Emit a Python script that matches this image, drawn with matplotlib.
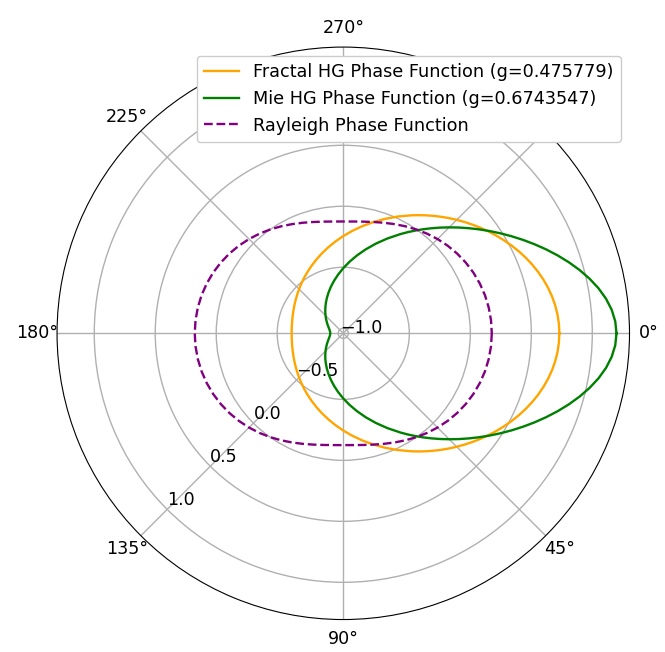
import numpy as np
import matplotlib
matplotlib.use("Agg")
import matplotlib.pyplot as plt

# Scattering angles (degrees) for 0..180; curves are symmetric about 0-180 axis
angles_half = [0, 5, 10, 15, 20, 25, 30, 35, 40, 45, 50, 55, 60, 65, 70, 75, 80, 85, 90,
               95, 100, 105, 110, 115, 120, 125, 130, 135, 140, 145, 150, 155, 160, 165,
               170, 175, 180]
fine_angles_half = [0, 2.5, 5, 7.5, 10, 12.5, 15, 17.5, 20, 22.5, 25, 27.5, 30, 32.5, 35,
                    37.5, 40, 42.5, 45, 47.5, 50, 52.5, 55, 57.5, 60, 65, 70, 75, 80, 85, 90,
                    95, 100, 105, 110, 115, 120, 125, 130, 135, 140, 145, 150, 155, 160, 165,
                    170, 175, 180]

# log10 of phase function values
fractal_half = [0.7300, 0.7278, 0.7215, 0.7110, 0.6966, 0.6786, 0.6573, 0.6332, 0.6064,
                0.5776, 0.5470, 0.5149, 0.4817, 0.4477, 0.4132, 0.3784, 0.3434, 0.3085,
                0.2738, 0.2395, 0.2055, 0.1721, 0.1392, 0.1070, 0.0754, 0.0145, -0.0435,
                -0.0984, -0.1501, -0.1988, -0.2444, -0.2870, -0.3268, -0.3636, -0.3977,
                -0.4292, -0.4580, -0.4837, -0.5080, -0.5293, -0.5483, -0.5649, -0.5792,
                -0.5913, -0.6011, -0.6088, -0.6142, -0.6174, -0.6185]
mie_half = [1.1984, 1.1905, 1.1676, 1.1311, 1.0833, 1.0267, 0.9638, 0.8968, 0.8275, 0.7573,
            0.6872, 0.6181, 0.5504, 0.4845, 0.4206, 0.3588, 0.2993, 0.2419, 0.1867, 0.1337,
            0.0827, 0.0338, -0.0133, -0.0585, -0.1019, -0.1836, -0.2591, -0.3289, -0.3932,
            -0.4527, -0.5076, -0.5582, -0.6048, -0.6477, -0.6870, -0.7230, -0.7557,
            -0.7854, -0.8121, -0.8360, -0.8572, -0.8757, -0.8915, -0.9049, -0.9158,
            -0.9242, -0.9302, -0.9338, -0.9350]
rayleigh_half = [0.1761, 0.1744, 0.1695, 0.1614, 0.1499, 0.1355, 0.1181, 0.0980, 0.0756,
                 0.0512, 0.0253, -0.0014, -0.0280, -0.0536, -0.0769, -0.0968, -0.1120,
                 -0.1217, -0.1249, -0.1217, -0.1120, -0.0968, -0.0769, -0.0536, -0.0280,
                 -0.0014, 0.0253, 0.0512, 0.0756, 0.0980, 0.1181, 0.1355, 0.1499, 0.1614,
                 0.1695, 0.1744, 0.1761]

labels = ["Fractal HG Phase Function (g=0.475779)",
          "Mie HG Phase Function (g=0.6743547)",
          "Rayleigh Phase Function"]


def full_circle(angles, values):
    a = list(angles) + [360 - x for x in angles[-2::-1]]
    v = list(values) + list(values[-2::-1])
    return np.deg2rad(a), v


th_f, r_f = full_circle(fine_angles_half, fractal_half)
th_m, r_m = full_circle(fine_angles_half, mie_half)
th_r, r_r = full_circle(angles_half, rayleigh_half)

fig = plt.figure(figsize=(6.65, 6.52), dpi=100)
ax = fig.add_axes([0.085, 0.0498, 0.8624, 0.878], projection="polar")
ax.set_theta_direction(-1)
ax.set_theta_offset(0)

ax.plot(th_f, r_f, color="orange", lw=1.7, label=labels[0])
ax.plot(th_m, r_m, color="green", lw=1.7, label=labels[1])
ax.plot(th_r, r_r, color="purple", lw=1.7, ls="--", label=labels[2])

ax.set_rticks([-1.0, -0.5, 0.0, 0.5, 1.0])
ax.set_rlabel_position(135)
ax.grid(True, color="#b0b0b0", lw=1.0)
ax.tick_params(labelsize=12.6)
ax.legend(loc="upper right", fontsize=12.7, framealpha=1.0)

fig.savefig("out.png", dpi=100)
